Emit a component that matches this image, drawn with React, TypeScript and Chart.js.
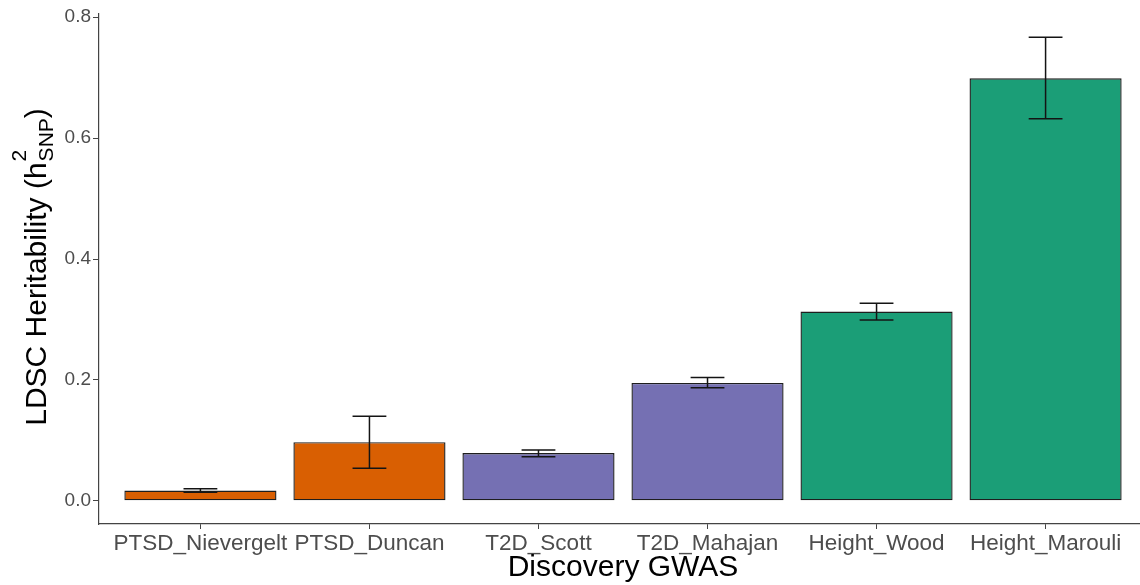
import React, { useEffect, useRef } from "react";
import { Chart, registerables } from "chart.js";

Chart.register(...registerables);

// GWAS discovery studies and their LDSC SNP-heritability estimates
const categories = [
  "PTSD_Nievergelt",
  "PTSD_Duncan",
  "T2D_Scott",
  "T2D_Mahajan",
  "Height_Wood",
  "Height_Marouli",
];
const heritability = [0.017, 0.097, 0.079, 0.195, 0.313, 0.699];
const errLow = [0.014, 0.054, 0.073, 0.187, 0.299, 0.632];
const errHigh = [0.020, 0.140, 0.084, 0.204, 0.327, 0.767];
const barColors = ["#D95F02", "#D95F02", "#7570B3", "#7570B3", "#1B9E77", "#1B9E77"];
const yTicks = [0, 0.2, 0.4, 0.6, 0.8];

const FONT = "'Liberation Sans', Arial, Helvetica, sans-serif";

// ggplot-style 5% expansion of the data range (bars start at 0, top = highest error bar)
const dataMax = Math.max(...errHigh);
const dataMin = 0;
const expand = (dataMax - dataMin) * 0.05;
const yMin = dataMin - expand;
const yMax = dataMax + expand;

const errorBarPlugin = {
  id: "errorBars",
  afterDatasetsDraw(chart: any) {
    const { ctx, scales } = chart;
    const xs = scales.x;
    const ys = scales.y;
    const capHalf = (xs.getPixelForValue(1) - xs.getPixelForValue(0)) * 0.1;
    ctx.save();
    ctx.strokeStyle = "#141414";
    ctx.lineWidth = 1.5;
    categories.forEach((_, i) => {
      const x = xs.getPixelForValue(i);
      const yl = ys.getPixelForValue(errLow[i]);
      const yh = ys.getPixelForValue(errHigh[i]);
      ctx.beginPath();
      ctx.moveTo(x, yl);
      ctx.lineTo(x, yh);
      ctx.moveTo(x - capHalf, yl);
      ctx.lineTo(x + capHalf, yl);
      ctx.moveTo(x - capHalf, yh);
      ctx.lineTo(x + capHalf, yh);
      ctx.stroke();
    });
    ctx.restore();
  },
};

const titlesPlugin = {
  id: "axisTitles",
  afterDraw(chart: any) {
    const { ctx, chartArea } = chart;
    ctx.save();
    ctx.fillStyle = "#000";

    // x-axis title
    ctx.font = `30px ${FONT}`;
    ctx.textAlign = "center";
    ctx.textBaseline = "alphabetic";
    ctx.fillText("Discovery GWAS", (chartArea.left + chartArea.right) / 2, 576);

    // y-axis title with h, superscript 2 and subscript SNP
    const main = "LDSC Heritability (h";
    const close = ")";
    const mainFont = `30px ${FONT}`;
    const scriptFont = `21px ${FONT}`;
    ctx.font = mainFont;
    const wMain = ctx.measureText(main).width;
    const wClose = ctx.measureText(close).width;
    ctx.font = scriptFont;
    const wSup = ctx.measureText("2").width;
    const wSub = ctx.measureText("SNP").width;
    const wScript = Math.max(wSup, wSub) + 1;
    const total = wMain + wScript + wClose;

    ctx.translate(46, 267);
    ctx.rotate(-Math.PI / 2);
    ctx.textAlign = "left";
    let x = -total / 2;
    ctx.font = mainFont;
    ctx.fillText(main, x, 0);
    x += wMain;
    ctx.font = scriptFont;
    ctx.fillText("2", x + 1, -20);
    ctx.fillText("SNP", x + 1, 7);
    x += wScript;
    ctx.font = mainFont;
    ctx.fillText(close, x, 0);
    ctx.restore();
  },
};

export default function App() {
  const canvasRef = useRef<HTMLCanvasElement | null>(null);

  useEffect(() => {
    const canvas = canvasRef.current;
    if (!canvas) return;
    const chart = new Chart(canvas, {
      type: "bar",
      data: {
        datasets: [
          {
            data: heritability.map((v, i) => ({ x: i, y: v })),
            backgroundColor: barColors,
            borderColor: "#1e1e1e",
            borderWidth: 1.4,
            borderSkipped: false,
            barPercentage: 0.9,
            categoryPercentage: 1.0,
          },
        ],
      },
      options: {
        responsive: false,
        animation: false,
        events: [],
        layout: { padding: { top: 14, right: 13, left: 0, bottom: 0 } },
        plugins: {
          legend: { display: false },
          tooltip: { enabled: false },
          title: { display: false },
        },
        scales: {
          x: {
            type: "linear",
            min: -0.6,
            max: 5.6,
            offset: false,
            afterBuildTicks: (scale: any) => {
              scale.ticks = categories.map((_, i) => ({ value: i }));
            },
            afterFit: (scale: any) => {
              scale.height = 61;
            },
            ticks: {
              autoSkip: false,
              maxRotation: 0,
              minRotation: 0,
              padding: 1,
              color: "#4d4d4d",
              font: { family: FONT, size: 22.5 },
              callback: (v: any) => categories[Number(v)] ?? "",
            },
            grid: {
              display: true,
              offset: false,
              drawOnChartArea: false,
              drawTicks: true,
              tickLength: 5,
              color: "#444",
            },
            border: { display: true, color: "#444", width: 1.2 },
          },
          y: {
            type: "linear",
            min: yMin,
            max: yMax,
            afterBuildTicks: (scale: any) => {
              scale.ticks = yTicks.map((v) => ({ value: v }));
            },
            afterFit: (scale: any) => {
              scale.width = 99;
            },
            ticks: {
              padding: 2,
              color: "#4d4d4d",
              font: { family: FONT, size: 19 },
              callback: (v: any) => Number(v).toFixed(1),
            },
            grid: {
              display: true,
              drawOnChartArea: false,
              drawTicks: true,
              tickLength: 6,
              color: "#444",
            },
            border: { display: true, color: "#444", width: 1.2 },
          },
        },
      },
      plugins: [errorBarPlugin, titlesPlugin],
    });
    return () => chart.destroy();
  }, []);

  return (
    <div
      style={{
        position: "fixed",
        left: 0,
        top: 0,
        width: 1140,
        height: 585,
        overflow: "hidden",
        background: "#fff",
      }}
    >
      <canvas ref={canvasRef} width={1160} height={585} style={{ display: "block" }} />
    </div>
  );
}
